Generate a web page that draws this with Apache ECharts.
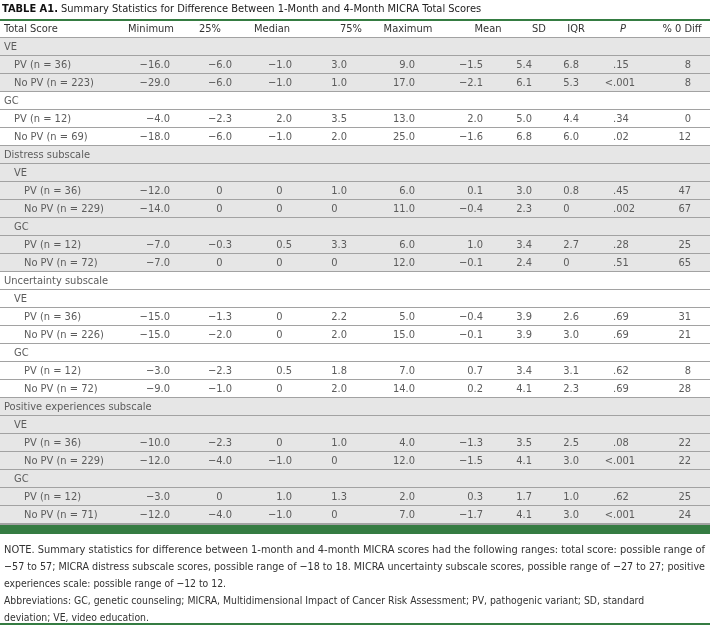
<!DOCTYPE html>
<html><head><meta charset="utf-8">
<script src="https://cdn.jsdelivr.net/npm/echarts@6/dist/echarts.min.js"></script>
<style>html,body{margin:0;padding:0;background:#fff}#c{width:710px;height:625px}</style>
</head><body><div id="c"></div>
<script>
// ---------------- data ----------------
const titleBold = 'TABLE A1.';
const titleText = 'Summary Statistics for Difference Between 1-Month and 4-Month MICRA Total Scores';
const columns = ['Total Score', 'Minimum', '25%', 'Median', '75%', 'Maximum', 'Mean', 'SD', 'IQR', 'P', '% 0 Diff'];
const rowLabels = [
  'VE', 'PV (n = 36)', 'No PV (n = 223)', 'GC', 'PV (n = 12)', 'No PV (n = 69)',
  'Distress subscale', 'VE', 'PV (n = 36)', 'No PV (n = 229)', 'GC', 'PV (n = 12)', 'No PV (n = 72)',
  'Uncertainty subscale', 'VE', 'PV (n = 36)', 'No PV (n = 226)', 'GC', 'PV (n = 12)', 'No PV (n = 72)',
  'Positive experiences subscale', 'VE', 'PV (n = 36)', 'No PV (n = 229)', 'GC', 'PV (n = 12)', 'No PV (n = 71)'
];
const rowLevels = [0,1,1,0,1,1, 0,1,2,2,1,2,2, 0,1,2,2,1,2,2, 0,1,2,2,1,2,2];
const minimum = ['', '−16.0', '−29.0', '', '−4.0', '−18.0', '', '', '−12.0', '−14.0', '', '−7.0', '−7.0', '', '', '−15.0', '−15.0', '', '−3.0', '−9.0', '', '', '−10.0', '−12.0', '', '−3.0', '−12.0'];
const q25     = ['', '−6.0', '−6.0', '', '−2.3', '−6.0', '', '', '0', '0', '', '−0.3', '0', '', '', '−1.3', '−2.0', '', '−2.3', '−1.0', '', '', '−2.3', '−4.0', '', '0', '−4.0'];
const median  = ['', '−1.0', '−1.0', '', '2.0', '−1.0', '', '', '0', '0', '', '0.5', '0', '', '', '0', '0', '', '0.5', '0', '', '', '0', '−1.0', '', '1.0', '−1.0'];
const q75     = ['', '3.0', '1.0', '', '3.5', '2.0', '', '', '1.0', '0', '', '3.3', '0', '', '', '2.2', '2.0', '', '1.8', '2.0', '', '', '1.0', '0', '', '1.3', '0'];
const maximum = ['', '9.0', '17.0', '', '13.0', '25.0', '', '', '6.0', '11.0', '', '6.0', '12.0', '', '', '5.0', '15.0', '', '7.0', '14.0', '', '', '4.0', '12.0', '', '2.0', '7.0'];
const mean    = ['', '−1.5', '−2.1', '', '2.0', '−1.6', '', '', '0.1', '−0.4', '', '1.0', '−0.1', '', '', '−0.4', '−0.1', '', '0.7', '0.2', '', '', '−1.3', '−1.5', '', '0.3', '−1.7'];
const sd      = ['', '5.4', '6.1', '', '5.0', '6.8', '', '', '3.0', '2.3', '', '3.4', '2.4', '', '', '3.9', '3.9', '', '3.4', '4.1', '', '', '3.5', '4.1', '', '1.7', '4.1'];
const iqr     = ['', '6.8', '5.3', '', '4.4', '6.0', '', '', '0.8', '0', '', '2.7', '0', '', '', '2.6', '3.0', '', '3.1', '2.3', '', '', '2.5', '3.0', '', '1.0', '3.0'];
const pValue  = ['', '.15', '<.001', '', '.34', '.02', '', '', '.45', '.002', '', '.28', '.51', '', '', '.69', '.69', '', '.62', '.69', '', '', '.08', '<.001', '', '.62', '<.001'];
const pctZero = ['', '8', '8', '', '0', '12', '', '', '47', '67', '', '25', '65', '', '', '31', '21', '', '8', '28', '', '', '22', '22', '', '25', '24'];
const noteLines = [
  'NOTE. Summary statistics for difference between 1-month and 4-month MICRA scores had the following ranges: total score: possible range of',
  '−57 to 57; MICRA distress subscale scores, possible range of −18 to 18. MICRA uncertainty subscale scores, possible range of −27 to 27; positive',
  'experiences scale: possible range of −12 to 12.',
  'Abbreviations: GC, genetic counseling; MICRA, Multidimensional Impact of Cancer Risk Assessment; PV, pathogenic variant; SD, standard',
  'deviation; VE, video education.'
];

// ---------------- layout / style ----------------
const FONT_FAMILY = "'Liberation Sans Narrow','DejaVu Sans Condensed','Roboto',sans-serif";
const FS = 11;
const GREEN = '#357c42';
const SHADE = '#e6e6e6';
const RULE = '#a2a2a2';
const BODY = '#5c5c5c';
const valueCols = [minimum, q25, median, q75, maximum, mean, sd, iqr, pValue, pctZero];
const decAnchor = [160.5, 222.5, 282.5, 337.5, 405.5, 473.5, 522.5, 569.5, 613, 691];
const rightAlignOnly = [false, false, false, false, false, false, false, false, false, true];
const headerCenter = [null, 151, 210, 272, 351, 408, 488, 539, 576, 623, 682];
const shadedGroups = [[0, 2], [6, 12], [20, 26]];
const indentStep = 10;
const noteJustify = [true, true, false, false, false];
const noteNaturalScale = 0.94;

const allRows = ['header'].concat(rowLabels.map((_, i) => 'r' + i));
const isShaded = i => shadedGroups.some(g => i >= g[0] && i <= g[1]);

function textEl(x, y, text, align, fill) {
  return {
    type: 'text', x: x, y: y,
    style: { text: text, fontFamily: FONT_FAMILY, fontSize: FS, fill: fill, align: align, verticalAlign: 'middle' }
  };
}

function renderRow(params, api) {
  const r = api.value(1);
  const c = api.coord([0, r]);
  const xEnd = api.coord([710, r])[0];
  const h = api.size([0, 1])[1];
  const top = c[1] - h / 2;
  const cy = c[1];
  const ch = [];
  const x = xo => api.coord([xo, r])[0];
  if (r === 0) {
    ch.push({ type: 'line', shape: { x1: c[0], y1: top + h, x2: xEnd, y2: top + h }, style: { stroke: RULE, lineWidth: 2 } });
    columns.forEach((name, k) => {
      const t = k === 0 ? textEl(x(4), cy, name, 'left', '#333') : textEl(x(headerCenter[k]), cy, name, 'center', '#333');
      if (name === 'P') t.style.fontStyle = 'italic';
      ch.push(t);
    });
    return { type: 'group', children: ch };
  }
  const i = r - 1;
  ch.push({ type: 'rect', shape: { x: c[0], y: top, width: xEnd - c[0], height: h }, style: { fill: isShaded(i) ? SHADE : '#fff' } });
  ch.push({ type: 'line', shape: { x1: c[0], y1: top + h, x2: xEnd, y2: top + h }, style: { stroke: RULE, lineWidth: 2 } });
  ch.push(textEl(x(4 + rowLevels[i] * indentStep), cy, rowLabels[i], 'left', BODY));
  valueCols.forEach((col, k) => {
    const s = col[i];
    if (!s) return;
    const ax = x(decAnchor[k]);
    const d = s.indexOf('.');
    if (rightAlignOnly[k] || d < 0) {
      ch.push(textEl(ax, cy, s, 'right', BODY));
    } else {
      if (d > 0) ch.push(textEl(ax, cy, s.slice(0, d), 'right', BODY));
      ch.push(textEl(ax, cy, s.slice(d), 'left', BODY));
    }
  });
  return { type: 'group', children: ch };
}

// justify the first two note lines, keep the rest at a consistent width
const ctx = document.createElement('canvas').getContext('2d');
ctx.font = FS + 'px ' + FONT_FAMILY;
const noteGraphics = noteLines.map((line, k) => {
  const w = ctx.measureText(line).width;
  return {
    type: 'text', x: 4, y: 550 + k * 17, scaleX: noteJustify[k] ? 701 / w : noteNaturalScale,
    style: { text: line, fontFamily: FONT_FAMILY, fontSize: FS, fill: '#333', align: 'left', verticalAlign: 'middle' }
  };
});

const chart = echarts.init(document.getElementById('c'), null, { renderer: 'canvas' });
chart.setOption({
  animation: false,
  grid: { left: 0, right: 0, top: 20, height: allRows.length * 18, containLabel: false },
  xAxis: { type: 'value', min: 0, max: 710, show: false },
  yAxis: { type: 'category', data: allRows, inverse: true, show: false },
  series: [{
    type: 'custom',
    renderItem: renderRow,
    encode: { x: 0, y: 1 },
    data: allRows.map((_, r) => [0, r]),
    silent: true
  }],
  graphic: [
    {
      type: 'text', x: 2, y: 9,
      style: {
        text: '{b|' + titleBold + '} ' + titleText,
        fontFamily: FONT_FAMILY, fontSize: FS, fill: '#222', verticalAlign: 'middle', align: 'left',
        rich: { b: { fontFamily: FONT_FAMILY, fontSize: FS, fontWeight: 'bold', fill: '#111' } }
      }
    },
    { type: 'rect', shape: { x: 0, y: 19, width: 710, height: 2 }, style: { fill: GREEN } },
    { type: 'rect', shape: { x: 0, y: 525, width: 710, height: 9 }, style: { fill: GREEN } },
    { type: 'rect', shape: { x: 0, y: 623, width: 710, height: 2 }, style: { fill: GREEN } }
  ].concat(noteGraphics)
});
</script>
</body></html>
